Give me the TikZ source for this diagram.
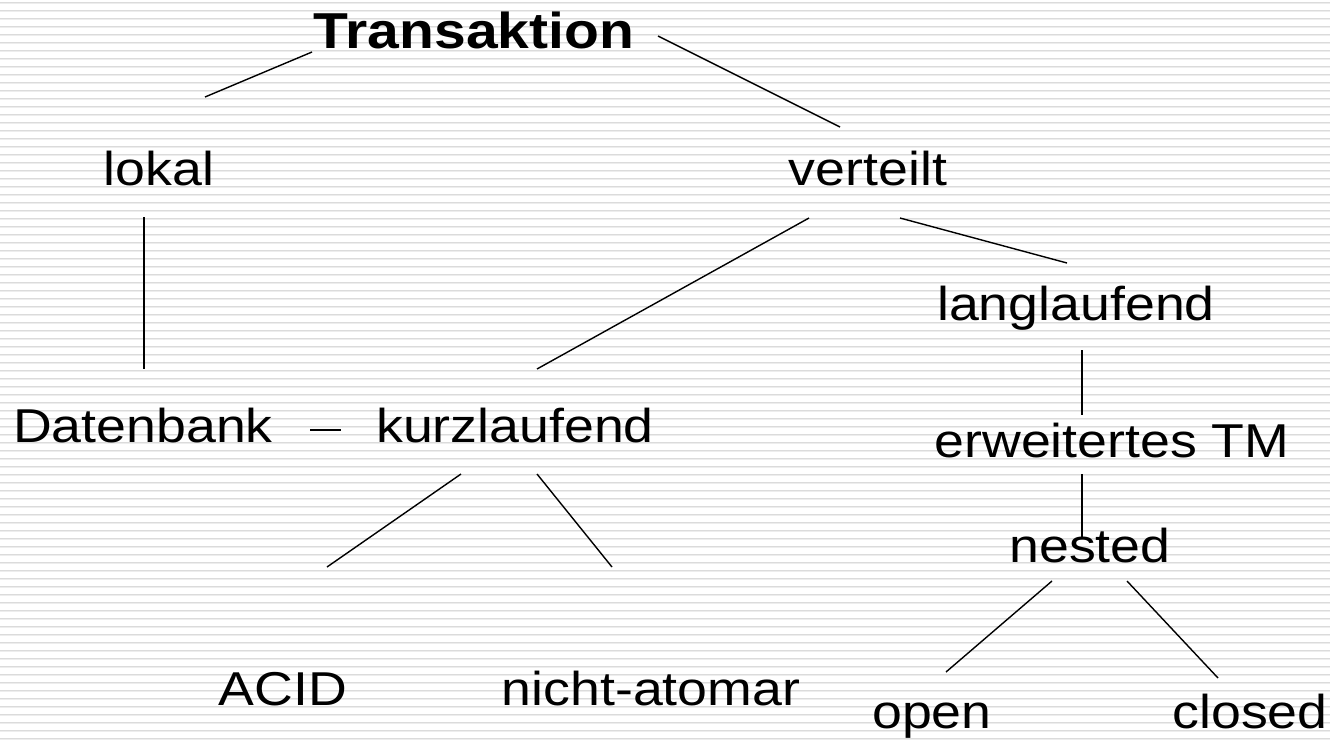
\documentclass[tikz,border=0pt]{standalone}
\usepackage{fontspec}
\setmainfont[FakeStretch=1.13]{Liberation Sans}
\usepackage{tikz}

\definecolor{stripedark}{gray}{0.86}
\definecolor{stripelight}{gray}{0.93}

\begin{document}
\begin{tikzpicture}[x=1pt,y=-1pt,
term/.style={inner sep=0pt,anchor=base,font=\fontsize{47.5}{57}\selectfont},
link/.style={line width=1.4pt}
]
\useasboundingbox (0,0) rectangle (1330,740);
% striped backdrop
\foreach \k in {0,...,92}{
  \fill[stripedark] (0,2+8*\k) rectangle (1330,3+8*\k);
  \fill[stripelight] (0,3+8*\k) rectangle (1330,4+8*\k);
}

% terms
\node[term,font=\fontsize{50.5}{60}\selectfont\bfseries] (ta) at (474,48) {Transaktion};
\node[term] (lokal) at (159,185) {lokal};
\node[term] (vert) at (868,185) {verteilt};
\node[term] (lang) at (1076,320) {langlaufend};
\node[term] (db) at (143,442) {Datenbank};
\node[term] (kurz) at (515,442) {kurzlaufend};
\node[term] (etm) at (1112,457) {erweitertes TM};
\node[term] (nested) at (1090,562) {nested};
\node[term] (acid) at (283,705) {ACID};
\node[term] (nato) at (651,705) {nicht-atomar};
\node[term] (open) at (932,728) {open};
\node[term] (closed) at (1250,728) {closed};

% links
\draw[link] ([shift={(-162,4)}]ta.base) -- ([shift={(46,-88)}]lokal.base);
\draw[link] ([shift={(184,-12)}]ta.base) -- ([shift={(-28,-58)}]vert.base);
\draw[link] ([shift={(-15,32)}]lokal.base) -- ([shift={(1,-73)}]db.base);
\draw[link] ([shift={(-59,33)}]vert.base) -- ([shift={(22,-73)}]kurz.base);
\draw[link] ([shift={(32,33)}]vert.base) -- ([shift={(-9,-57)}]lang.base);
\draw[link] ([shift={(167,-12)}]db.base) -- ([shift={(-174,-12)}]kurz.base);
\draw[link] ([shift={(6,30)}]lang.base) -- ([shift={(-30,-42)}]etm.base);
\draw[link] ([shift={(-54,32)}]kurz.base) -- ([shift={(44,-138)}]acid.base);
\draw[link] ([shift={(22,32)}]kurz.base) -- ([shift={(-39,-138)}]nato.base);
\draw[link] ([shift={(-30,17)}]etm.base) -- ([shift={(-8,-25)}]nested.base);
\draw[link] ([shift={(-38,19)}]nested.base) -- ([shift={(14,-56)}]open.base);
\draw[link] ([shift={(37,19)}]nested.base) -- ([shift={(-32,-50)}]closed.base);
\end{tikzpicture}
\end{document}
